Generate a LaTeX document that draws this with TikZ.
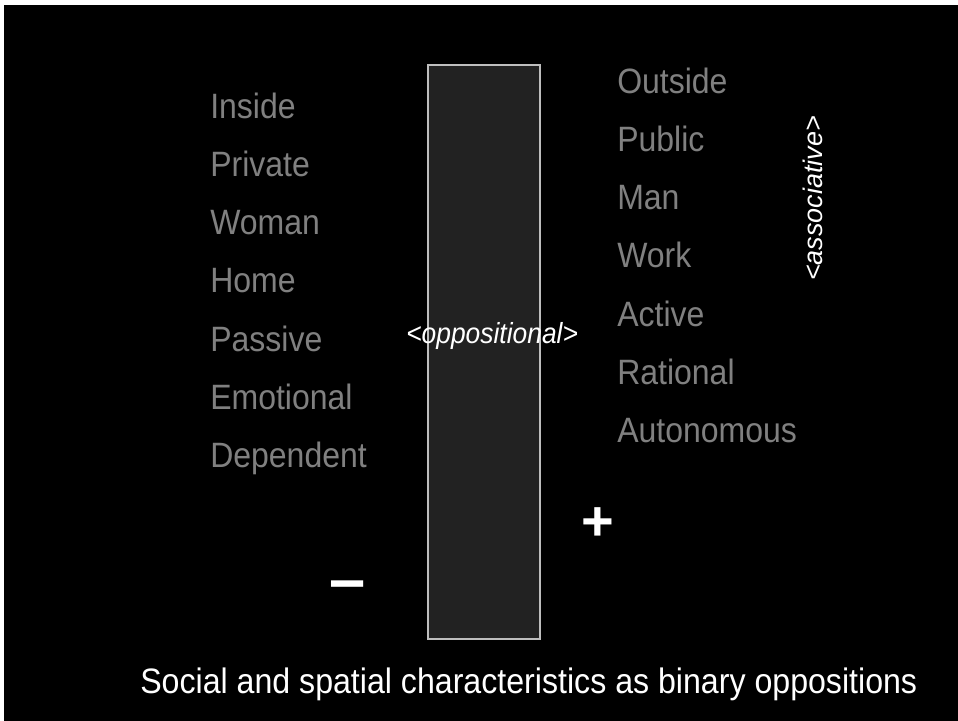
\documentclass[tikz,border=0pt]{standalone}
\usepackage{fontspec}
\setmainfont{Liberation Sans}
\definecolor{wordgray}{RGB}{128,128,128}
\definecolor{barfill}{RGB}{34,34,34}
\definecolor{barline}{RGB}{190,190,190}
\newcommand\vstretch[1]{\scalebox{1}[1.1]{#1}}
\tikzset{
  word/.style={anchor=base west, inner sep=0pt, text=wordgray, font=\fontsize{24}{28}\selectfont},
  capt/.style={anchor=base west, inner sep=0pt, text=white, font=\fontsize{24.1}{28}\selectfont},
  tag/.style={anchor=base west, inner sep=0pt, text=white, font=\itshape\fontsize{19.8}{24}\selectfont},
  sign/.style={anchor=base, inner sep=0pt, text=white, font=\bfseries\fontsize{42}{48}\selectfont}
}
\begin{document}
\begin{tikzpicture}[x=0.75pt,y=0.75pt]
\useasboundingbox (0,0) rectangle (958,-721);
\fill[white] (0,0) rectangle (958,-721);
\fill[black] (4,-5) rectangle (958,-721);
% central bar
\draw[draw=barline, fill=barfill, line width=1.5pt] (428,-65) rectangle (540,-639);
% left column
\node[word] (inside)    at (210,-118) {\vstretch{Inside}};
\node[word] (private)   at (210,-176.3) {\vstretch{Private}};
\node[word] (woman)     at (210,-234.6) {\vstretch{Woman}};
\node[word] (home)      at (210,-292.9) {\vstretch{Home}};
\node[word] (passive)   at (210,-351.2) {\vstretch{Passive}};
\node[word] (emotional) at (210,-409.5) {\vstretch{Emotional}};
\node[word] (dependent) at (210,-467.8) {\vstretch{Dependent}};
% right column
\node[word] (outside)    at (617,-93) {\vstretch{Outside}};
\node[word] (public)     at (617,-151.3) {\vstretch{Public}};
\node[word] (man)        at (617,-209.6) {\vstretch{Man}};
\node[word] (work)       at (617,-267.9) {\vstretch{Work}};
\node[word] (active)     at (617,-326.2) {\vstretch{Active}};
\node[word] (rational)   at (617,-384.5) {\vstretch{Rational}};
\node[word] (autonomous) at (617,-442.8) {\vstretch{Autonomous}};
% tags
\node[tag] (oppositional) at (406,-343) {\vstretch{<oppositional>}};
\node[tag, rotate=90, font=\itshape\fontsize{20.2}{24}\selectfont] (associative) at (822,-281) {<associative>};
% signs
\node[sign] (plus) at (598,-540) {+};
\node[sign, font=\bfseries\fontsize{48.75}{54}\selectfont] (minus) at (348,-601) {–};
% caption
\node[capt] (caption) at (140,-693) {\vstretch{Social and spatial characteristics as binary oppositions}};
\end{tikzpicture}
\end{document}
